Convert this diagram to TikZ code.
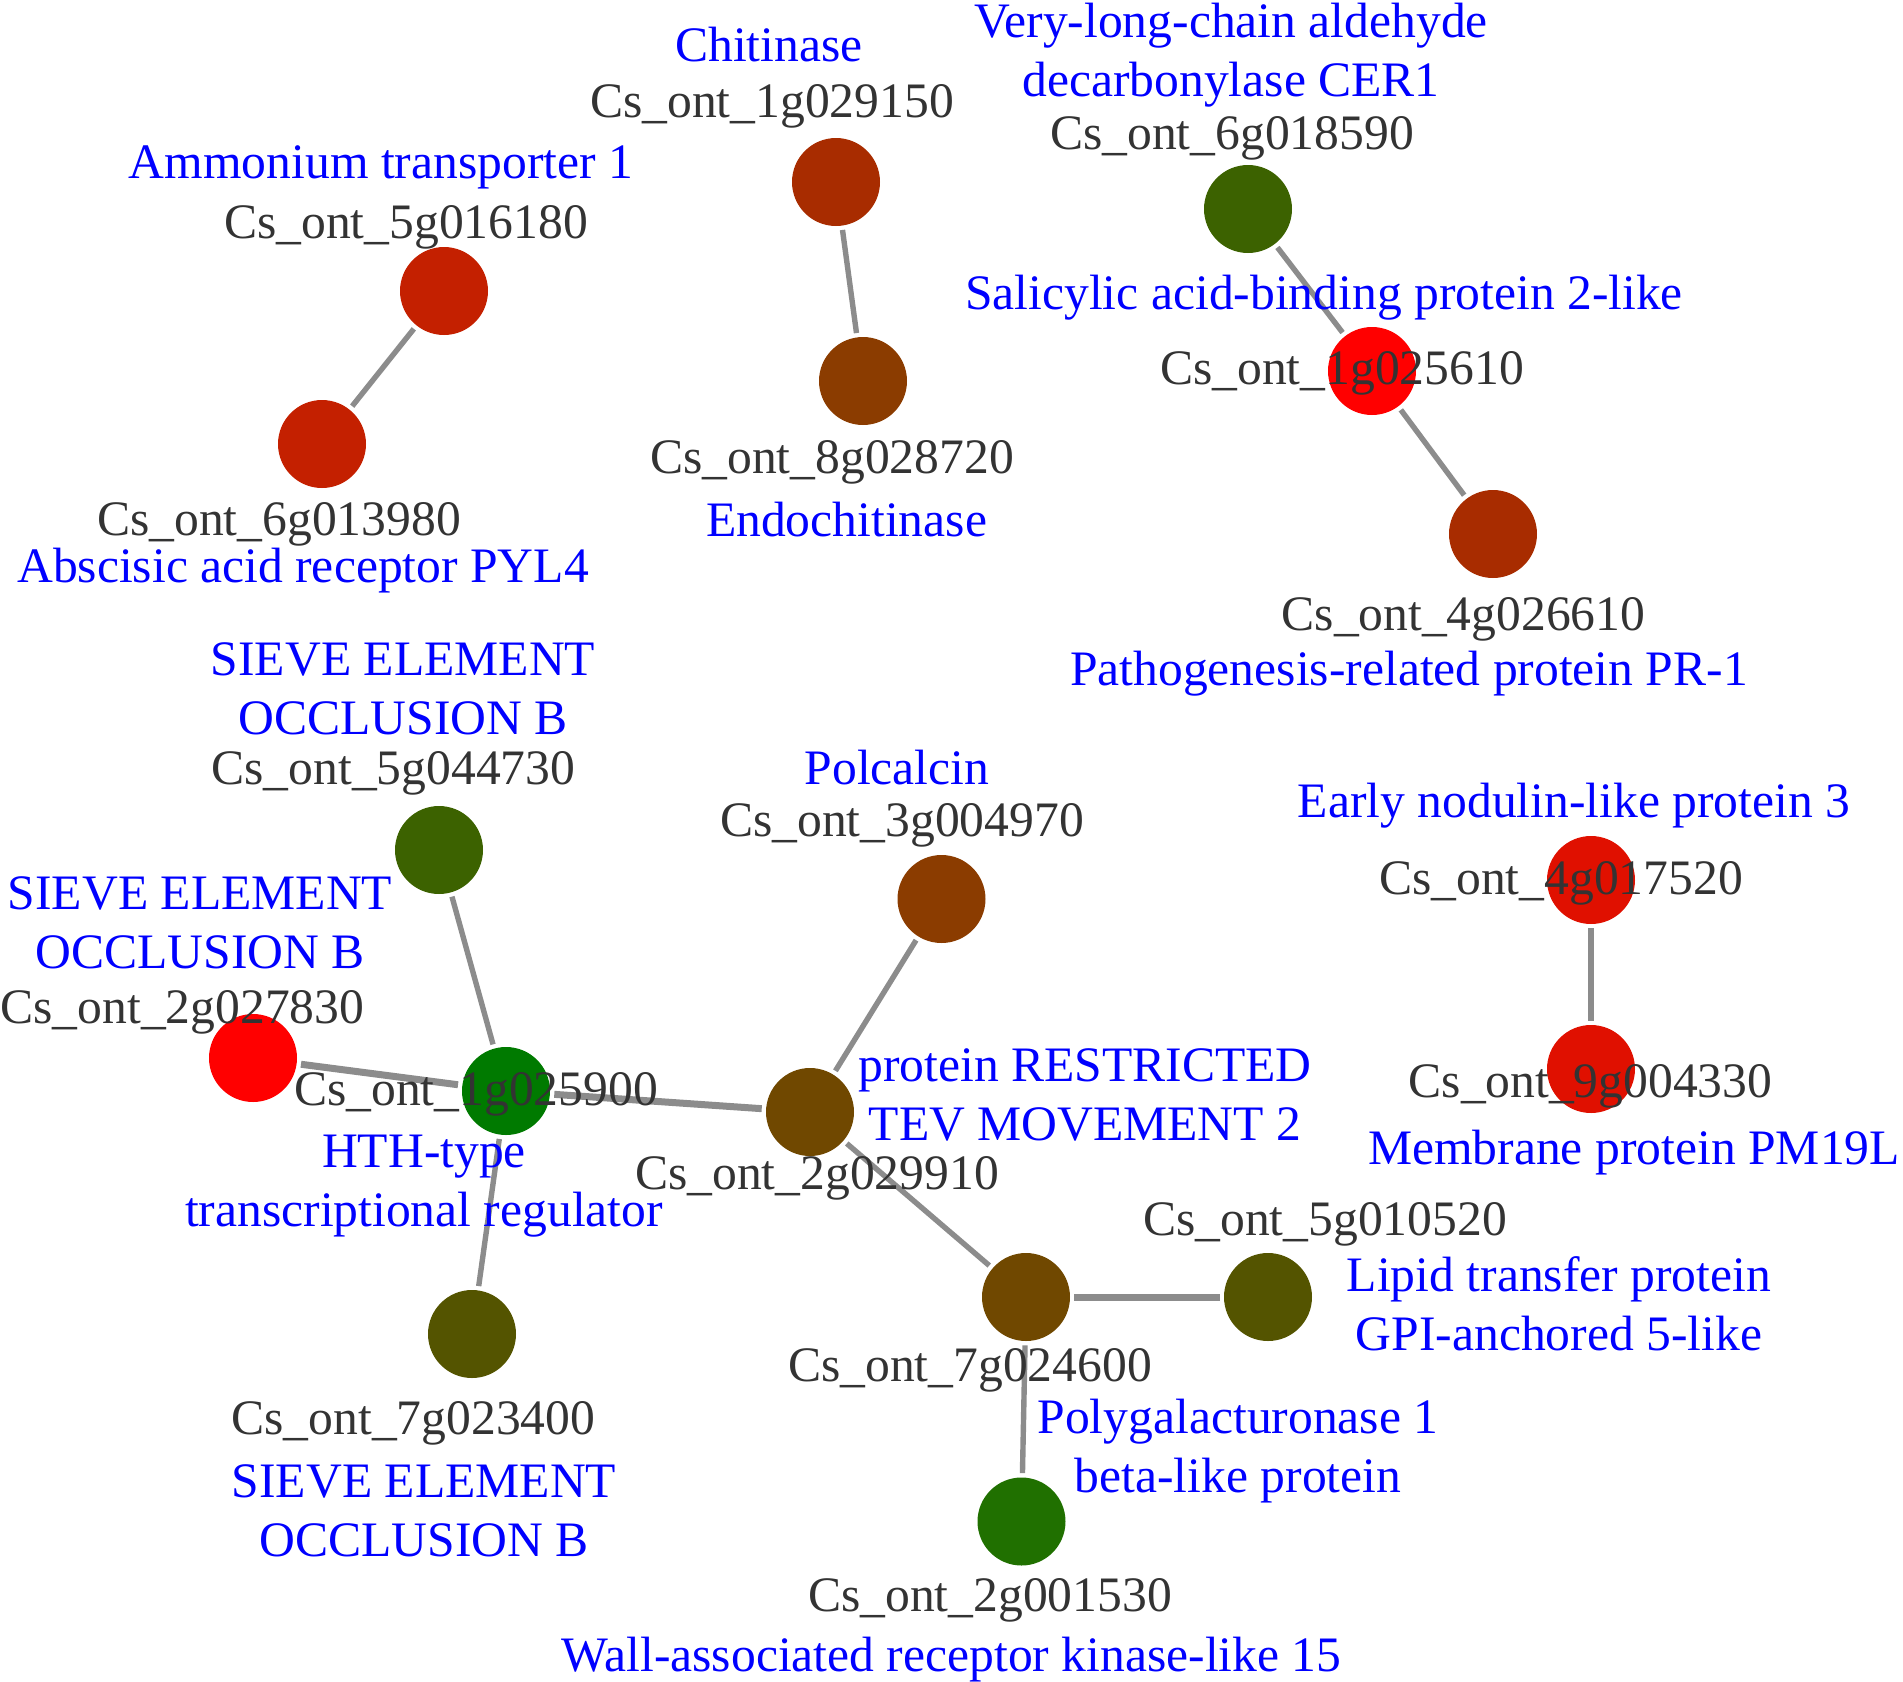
\documentclass[tikz,border=0pt]{standalone}
\usepackage{fontspec}
\setmainfont{Liberation Serif}
\usetikzlibrary{backgrounds}
\definecolor{idgray}{RGB}{51,51,51}
\definecolor{nameblue}{RGB}{0,0,255}
\definecolor{edgegray}{RGB}{140,140,140}
\definecolor{cA}{RGB}{196,32,0}
\definecolor{cB}{RGB}{168,44,0}
\definecolor{cC}{RGB}{139,60,0}
\definecolor{cD}{RGB}{60,98,0}
\definecolor{cE}{RGB}{255,0,0}
\definecolor{cF}{RGB}{0,122,0}
\definecolor{cG}{RGB}{84,84,0}
\definecolor{cH}{RGB}{112,72,0}
\definecolor{cI}{RGB}{32,112,0}
\definecolor{cJ}{RGB}{224,16,0}
\tikzset{
  gene/.style={circle, draw=none, inner sep=0pt, minimum size=44pt},
  idlabel/.style={anchor=base, text=idgray, inner sep=0pt, font=\fontsize{24.8pt}{29.75pt}\selectfont},
  namelabel/.style={anchor=base, text=nameblue, inner sep=0pt, align=center, font=\fontsize{24.8pt}{29.75pt}\selectfont},
  link/.style={draw=edgegray, line width=2.7pt, shorten <=2pt, shorten >=2pt},
  thicklink/.style={link, line width=3.5pt}
}
\begin{document}
\begin{tikzpicture}[x=0.5pt,y=-0.5pt]
\useasboundingbox (0,0) rectangle (1903,1682);
% gene nodes
\node[gene, fill=cA] (n1) at (444,291) {};
\node[gene, fill=cA] (n2) at (322,444) {};
\node[gene, fill=cB] (n3) at (836,182) {};
\node[gene, fill=cC] (n4) at (863,381) {};
\node[gene, fill=cD] (n5) at (1248,209) {};
\node[gene, fill=cE] (n6) at (1372,371) {};
\node[gene, fill=cB] (n7) at (1493,534) {};
\node[gene, fill=cD] (n8) at (439,850) {};
\node[gene, fill=cE] (n9) at (253,1058) {};
\node[gene, fill=cF] (n10) at (506,1091) {};
\node[gene, fill=cG] (n11) at (472,1334) {};
\node[gene, fill=cC] (n12) at (941.5,899) {};
\node[gene, fill=cH] (n13) at (810,1112) {};
\node[gene, fill=cH] (n14) at (1026,1297) {};
\node[gene, fill=cG] (n15) at (1268,1297) {};
\node[gene, fill=cI] (n16) at (1021.5,1521.5) {};
\node[gene, fill=cJ] (n17) at (1591,880) {};
\node[gene, fill=cJ] (n18) at (1591,1069) {};
% edges
\begin{scope}[on background layer]
\draw[link] (n1) -- (n2);
\draw[link] (n3) -- (n4);
\draw[link] (n5) -- (n6);
\draw[link] (n6) -- (n7);
\draw[link] (n8) -- (n10);
\draw[thicklink] (n9) -- (n10);
\draw[link] (n10) -- (n11);
\draw[thicklink] (n10) -- (n13);
\draw[link] (n12) -- (n13);
\draw[link] (n13) -- (n14);
\draw[thicklink] (n14) -- (n15);
\draw[link] (n14) -- (n16);
\draw[link] (n17) -- (n18);
\end{scope}
% id labels
\node[idlabel] (l1) at (406,238) {Cs\_ont\_5g016180};
\node[idlabel] (l2) at (279,535) {Cs\_ont\_6g013980};
\node[idlabel] (l3) at (772,117) {Cs\_ont\_1g029150};
\node[idlabel] (l4) at (832,473) {Cs\_ont\_8g028720};
\node[idlabel] (l5) at (1232,149.5) {Cs\_ont\_6g018590};
\node[idlabel] (l6) at (1342,384) {Cs\_ont\_1g025610};
\node[idlabel] (l7) at (1463.5,630) {Cs\_ont\_4g026610};
\node[idlabel] (l8) at (393.5,784.5) {Cs\_ont\_5g044730};
\node[idlabel] (l9) at (182.5,1023) {Cs\_ont\_2g027830};
\node[idlabel] (l10) at (476,1105) {Cs\_ont\_1g025900};
\node[idlabel] (l11) at (413.5,1434) {Cs\_ont\_7g023400};
\node[idlabel] (l12) at (902,836) {Cs\_ont\_3g004970};
\node[idlabel] (l13) at (817,1189) {Cs\_ont\_2g029910};
\node[idlabel] (l14) at (970,1381) {Cs\_ont\_7g024600};
\node[idlabel] (l15) at (1325,1235) {Cs\_ont\_5g010520};
\node[idlabel] (l16) at (990,1611.5) {Cs\_ont\_2g001530};
\node[idlabel] (l17) at (1561,894) {Cs\_ont\_4g017520};
\node[idlabel] (l18) at (1590.5,1097) {Cs\_ont\_9g004330};
% name labels (multi-line: anchored at the baseline of the last line)
\node[namelabel] (m1) at (381,178) {Ammonium transporter 1};
\node[namelabel] (m2) at (303,582.5) {Abscisic acid receptor PYL4};
\node[namelabel] (m3) at (769,61) {Chitinase};
\node[namelabel] (m4) at (846.5,536) {Endochitinase};
\node[namelabel] (m5) at (1231,96.5) {Very-long-chain aldehyde\\decarbonylase CER1};
\node[namelabel] (m6) at (1324,309) {Salicylic acid-binding protein 2-like};
\node[namelabel] (m7) at (1409,685) {Pathogenesis-related protein PR-1};
\node[namelabel] (m8) at (403,734.5) {SIEVE ELEMENT\\OCCLUSION B};
\node[namelabel] (m9) at (200,968.5) {SIEVE ELEMENT\\OCCLUSION B};
\node[namelabel] (m10) at (424,1226.5) {HTH-type\\transcriptional regulator};
\node[namelabel] (m11) at (424,1556.5) {SIEVE ELEMENT\\OCCLUSION B};
\node[namelabel] (m12) at (897,784.5) {Polcalcin};
\node[namelabel] (m13) at (1085,1140.5) {protein RESTRICTED\\TEV MOVEMENT 2};
\node[namelabel] (m14) at (1559,1350.5) {Lipid transfer protein\\GPI-anchored 5-like};
\node[namelabel] (m15) at (1238,1492.5) {Polygalacturonase 1\\beta-like protein};
\node[namelabel] (m16) at (951.5,1671) {Wall-associated receptor kinase-like 15};
\node[namelabel] (m17) at (1574,817) {Early nodulin-like protein 3};
\node[namelabel] (m18) at (1634,1164) {Membrane protein PM19L};
\end{tikzpicture}
\end{document}
